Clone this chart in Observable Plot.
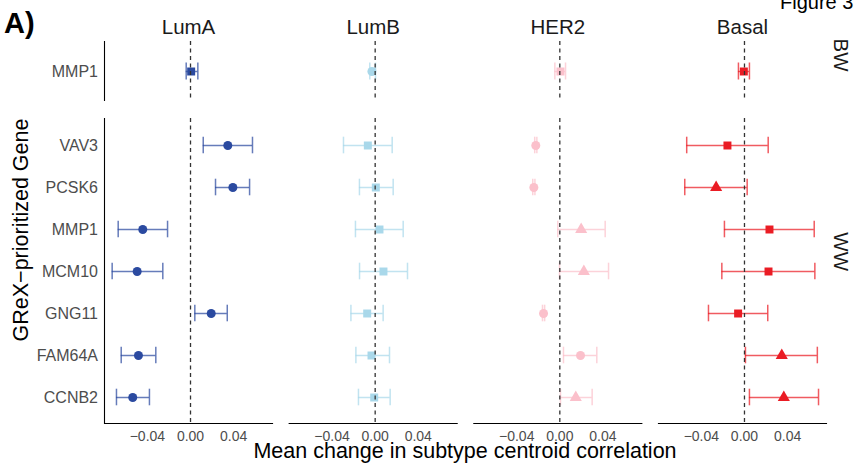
<!DOCTYPE html>
<html><head><meta charset="utf-8">
<script src="https://cdn.jsdelivr.net/npm/d3@7"></script>
<script src="https://cdn.jsdelivr.net/npm/@observablehq/plot@0.6"></script>
<style>
body{margin:0;background:#fff;}
#wrap{position:relative;width:861px;height:466px;overflow:hidden;font-family:"Liberation Sans",Arial,sans-serif;background:#fff;}
.lab{position:absolute;line-height:1;white-space:nowrap;color:#000;}
</style></head><body>
<div id="wrap">
<div id="p1" style="position:absolute;left:0;top:0"></div>
<div id="p2" style="position:absolute;left:0;top:101px"></div>
<div class="lab" style="left:4px;top:8.5px;font-size:29px;font-weight:bold;">A)</div>
<div class="lab" style="left:780px;top:-8.4px;font-size:20px;">Figure 3</div>
<div class="lab" style="left:104px;width:722px;text-align:center;top:441px;font-size:21.5px;">Mean change in subtype centroid correlation</div>
<div class="lab" style="left:22px;top:230px;font-size:21.5px;transform:translate(-50%,-50%) rotate(-90deg);">GReX−prioritized Gene</div>
</div>
<script>
// ---- data ----
const subtypes = ["LumA", "LumB", "HER2", "Basal"];
const subtypeColors = ["#2b4aa0", "#a9d8ea", "#fbc0cb", "#ea1c24"];
const panels = ["BW", "WW"];
const genesBW = ["MMP1"];
const genesWW = ["VAV3", "PCSK6", "MMP1", "MCM10", "GNG11", "FAM64A", "CCNB2"];
const xTicks = [-0.04, 0, 0.04];
const xDomain = [-0.0798, 0.0761];

// WW panel, values in genesWW order
const lumA_mean = [0.0346, 0.0393, -0.0443, -0.0495, 0.0192, -0.0483, -0.0536];
const lumA_lo   = [0.0118, 0.0232, -0.0671, -0.0727, 0.0040, -0.0643, -0.0687];
const lumA_hi   = [0.0575, 0.0548, -0.0213, -0.0257, 0.0341, -0.0322, -0.0381];
const lumA_shape = ["circle","circle","circle","circle","circle","circle","circle"];

const lumB_mean = [-0.0068, 0.0006, 0.0040, 0.0077, -0.0074, -0.0034, -0.0009];
const lumB_lo   = [-0.0294, -0.0146, -0.0183, -0.0145, -0.0225, -0.0179, -0.0155];
const lumB_hi   = [0.0158, 0.0167, 0.0260, 0.0300, 0.0074, 0.0133, 0.0139];
const lumB_shape = ["square","square","square","square","square","square","square"];

const her2_mean = [-0.0223, -0.0241, 0.0198, 0.0223, -0.0151, 0.0192, 0.0148];
const her2_lo   = [-0.0233, -0.0251, -0.0019, -0.0003, -0.0161, 0.0034, 0.0006];
const her2_hi   = [-0.0213, -0.0231, 0.0421, 0.0452, -0.0141, 0.0343, 0.0300];
const her2_shape = ["circle","circle","triangle","triangle","circle","circle","triangle"];

const basal_mean = [-0.0158, -0.0263, 0.0232, 0.0223, -0.0059, 0.0346, 0.0365];
const basal_lo   = [-0.0536, -0.0554, -0.0186, -0.0210, -0.0334, 0.0009, 0.0046];
const basal_hi   = [0.0220, 0.0025, 0.0647, 0.0653, 0.0216, 0.0676, 0.0687];
const basal_shape = ["square","triangle","square","square","square","triangle","triangle"];

// BW panel (MMP1), values in subtypes order
const bw_mean = [0.0006, -0.0030, 0.0006, -0.0006];
const bw_lo   = [-0.0040, -0.0050, -0.0046, -0.0056];
const bw_hi   = [0.0068, 0.0003, 0.0053, 0.0046];
const bw_shape = ["square", "circle", "square", "square"];

// ---- tables ----
const wwSets = [
  [lumA_mean, lumA_lo, lumA_hi, lumA_shape],
  [lumB_mean, lumB_lo, lumB_hi, lumB_shape],
  [her2_mean, her2_lo, her2_hi, her2_shape],
  [basal_mean, basal_lo, basal_hi, basal_shape]
];
const ww = [];
subtypes.forEach((s, i) => {
  const [m, lo, hi, sh] = wwSets[i];
  genesWW.forEach((g, j) => ww.push({subtype: s, gene: g, mean: m[j], lo: lo[j], hi: hi[j], shape: sh[j]}));
});
const bw = subtypes.map((s, i) => ({subtype: s, gene: genesBW[0], mean: bw_mean[i], lo: bw_lo[i], hi: bw_hi[i], shape: bw_shape[i]}));

const font = '"Liberation Sans", Arial, sans-serif';
const barStyle = {stroke: "subtype", strokeWidth: 1.5, strokeOpacity: 0.72};

function errorMarks(data, inset) {
  return [
    Plot.ruleY(data, {y: "gene", x1: "lo", x2: "hi", fx: "subtype", ...barStyle}),
    Plot.tickX(data, {x: "lo", y: "gene", fx: "subtype", insetTop: inset, insetBottom: inset, ...barStyle}),
    Plot.tickX(data, {x: "hi", y: "gene", fx: "subtype", insetTop: inset, insetBottom: inset, ...barStyle}),
    Plot.dot(data, {x: "mean", y: "gene", fx: "subtype", fill: "subtype", symbol: "shape", r: 4.5, stroke: null})
  ];
}

const common = {
  width: 861,
  marginLeft: 104,
  marginRight: 35,
  style: {fontFamily: font, background: "transparent", overflow: "visible"},
  fx: {domain: subtypes, paddingInner: 0.09, paddingOuter: 0, round: false, label: null},
  color: {domain: subtypes, range: subtypeColors}
};

const p1 = Plot.plot({
  ...common,
  height: 101,
  marginTop: 41,
  marginBottom: 0,
  x: {domain: xDomain, axis: null},
  y: {type: "band", domain: genesBW, paddingInner: 0, paddingOuter: 0.1, label: null},
  marks: [
    Plot.ruleX([xDomain[0]], {x: d => d, fx: () => "LumA", stroke: "#000", strokeWidth: 1.1}),
    ...errorMarks(bw, 16.5),
    Plot.ruleX([0], {stroke: "#333", strokeDasharray: "4,3.5", strokeWidth: 1.3}),
    Plot.axisY({tickSize: 0, tickPadding: 6.5, fontSize: 16, fill: "#4d4d4d", label: null}),
    Plot.axisFx({anchor: "top", tickSize: 0, tickPadding: 8, fontSize: 20.5, fill: "#1a1a1a", label: null}),
    Plot.text([panels[0]], {fx: () => "Basal", text: d => d, frameAnchor: "right", dx: 14, rotate: 90, fontSize: 20.5, fill: "#1a1a1a"})
  ]
});
document.getElementById("p1").appendChild(p1);

const p2 = Plot.plot({
  ...common,
  height: 352,
  marginTop: 17,
  marginBottom: 30,
  fx: {...common.fx, axis: null},
  x: {domain: xDomain},
  y: {type: "band", domain: genesWW, paddingInner: 0, paddingOuter: 0.1, label: null},
  marks: [
    Plot.ruleX([xDomain[0]], {x: d => d, fx: () => "LumA", stroke: "#000", strokeWidth: 1.1}),
    Plot.frame({anchor: "bottom", stroke: "#000", strokeWidth: 1.1}),
    ...errorMarks(ww, 12.7),
    Plot.ruleX([0], {stroke: "#333", strokeDasharray: "4,3.5", strokeWidth: 1.3}),
    Plot.axisY({tickSize: 0, tickPadding: 6.5, fontSize: 16, fill: "#4d4d4d", label: null}),
    Plot.axisX({ticks: xTicks, tickSize: 0, tickPadding: 8, tickFormat: d3.format(".2f"), fontSize: 14, fill: "#4d4d4d", label: null}),
    Plot.text([panels[1]], {fx: () => "Basal", text: d => d, frameAnchor: "right", dx: 14, rotate: 90, fontSize: 20.5, fill: "#1a1a1a"})
  ]
});
document.getElementById("p2").appendChild(p2);
</script>
</body></html>
